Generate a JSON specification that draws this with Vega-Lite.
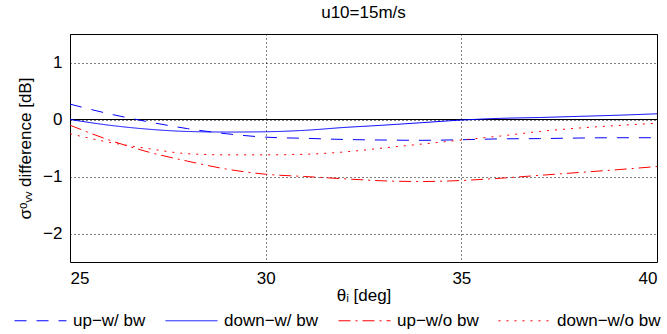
{
  "$schema": "https://vega.github.io/schema/vega-lite/v6.json",
  "width": 587,
  "height": 228,
  "autosize": "none",
  "padding": {"left": 70, "top": 34, "right": 10, "bottom": 72},
  "background": "white",
  "title": {"text": "u10=15m/s", "fontSize": 17, "font": "Liberation Sans", "fontWeight": "normal", "offset": 12, "anchor": "middle", "color": "black"},
  "config": {
    "font": "Liberation Sans",
    "view": {"stroke": "black", "strokeWidth": 1},
    "axis": {
      "domain": false,
      "ticks": false,
      "grid": true,
      "gridColor": "black",
      "gridDash": [1, 3],
      "gridOpacity": 1,
      "gridWidth": 1,
      "labelFont": "Liberation Sans",
      "labelFontSize": 17,
      "labelColor": "black",
      "titleFont": "Liberation Sans",
      "titleFontSize": 17,
      "titleFontWeight": "normal",
      "titleColor": "black"
    },
    "legend": {
      "labelFont": "Liberation Sans",
      "labelFontSize": 17,
      "labelColor": "black",
      "labelLimit": 300
    }
  },
  "data": {
    "values": [
      {"t": 25, "s": "up−w/ bw", "v": 0.27},
      {"t": 26, "s": "up−w/ bw", "v": 0.1},
      {"t": 27, "s": "up−w/ bw", "v": -0.04},
      {"t": 28, "s": "up−w/ bw", "v": -0.16},
      {"t": 29, "s": "up−w/ bw", "v": -0.25},
      {"t": 30, "s": "up−w/ bw", "v": -0.31},
      {"t": 31, "s": "up−w/ bw", "v": -0.33},
      {"t": 32, "s": "up−w/ bw", "v": -0.35},
      {"t": 33, "s": "up−w/ bw", "v": -0.36},
      {"t": 34, "s": "up−w/ bw", "v": -0.365},
      {"t": 35, "s": "up−w/ bw", "v": -0.355},
      {"t": 36, "s": "up−w/ bw", "v": -0.34},
      {"t": 37, "s": "up−w/ bw", "v": -0.335},
      {"t": 38, "s": "up−w/ bw", "v": -0.325},
      {"t": 39, "s": "up−w/ bw", "v": -0.32},
      {"t": 40, "s": "up−w/ bw", "v": -0.32},
      {"t": 25, "s": "down−w/ bw", "v": 0.0},
      {"t": 26, "s": "down−w/ bw", "v": -0.1},
      {"t": 27, "s": "down−w/ bw", "v": -0.17},
      {"t": 28, "s": "down−w/ bw", "v": -0.21},
      {"t": 29, "s": "down−w/ bw", "v": -0.22},
      {"t": 30, "s": "down−w/ bw", "v": -0.215},
      {"t": 31, "s": "down−w/ bw", "v": -0.19},
      {"t": 32, "s": "down−w/ bw", "v": -0.14},
      {"t": 33, "s": "down−w/ bw", "v": -0.1},
      {"t": 34, "s": "down−w/ bw", "v": -0.055},
      {"t": 35, "s": "down−w/ bw", "v": -0.01},
      {"t": 36, "s": "down−w/ bw", "v": 0.02},
      {"t": 37, "s": "down−w/ bw", "v": 0.035},
      {"t": 38, "s": "down−w/ bw", "v": 0.055},
      {"t": 39, "s": "down−w/ bw", "v": 0.075},
      {"t": 40, "s": "down−w/ bw", "v": 0.1},
      {"t": 25, "s": "up−w/o bw", "v": -0.1},
      {"t": 26, "s": "up−w/o bw", "v": -0.36},
      {"t": 27, "s": "up−w/o bw", "v": -0.57},
      {"t": 28, "s": "up−w/o bw", "v": -0.73},
      {"t": 29, "s": "up−w/o bw", "v": -0.87},
      {"t": 30, "s": "up−w/o bw", "v": -0.96},
      {"t": 31, "s": "up−w/o bw", "v": -1.0},
      {"t": 32, "s": "up−w/o bw", "v": -1.04},
      {"t": 33, "s": "up−w/o bw", "v": -1.076},
      {"t": 34, "s": "up−w/o bw", "v": -1.088},
      {"t": 35, "s": "up−w/o bw", "v": -1.07},
      {"t": 36, "s": "up−w/o bw", "v": -1.03},
      {"t": 37, "s": "up−w/o bw", "v": -0.98},
      {"t": 38, "s": "up−w/o bw", "v": -0.93},
      {"t": 39, "s": "up−w/o bw", "v": -0.88},
      {"t": 40, "s": "up−w/o bw", "v": -0.825},
      {"t": 25, "s": "down−w/o bw", "v": -0.25},
      {"t": 26, "s": "down−w/o bw", "v": -0.4},
      {"t": 27, "s": "down−w/o bw", "v": -0.51},
      {"t": 28, "s": "down−w/o bw", "v": -0.6},
      {"t": 29, "s": "down−w/o bw", "v": -0.62},
      {"t": 30, "s": "down−w/o bw", "v": -0.62},
      {"t": 31, "s": "down−w/o bw", "v": -0.61},
      {"t": 32, "s": "down−w/o bw", "v": -0.57},
      {"t": 33, "s": "down−w/o bw", "v": -0.5},
      {"t": 34, "s": "down−w/o bw", "v": -0.43},
      {"t": 35, "s": "down−w/o bw", "v": -0.36},
      {"t": 36, "s": "down−w/o bw", "v": -0.29},
      {"t": 37, "s": "down−w/o bw", "v": -0.21},
      {"t": 38, "s": "down−w/o bw", "v": -0.15},
      {"t": 39, "s": "down−w/o bw", "v": -0.105},
      {"t": 40, "s": "down−w/o bw", "v": -0.065}
    ]
  },
  "layer": [
    {
      "mark": {"type": "rule", "color": "black", "strokeWidth": 1},
      "encoding": {"y": {"datum": 0, "type": "quantitative"}}
    },
    {
      "mark": {"type": "line", "strokeWidth": 1, "interpolate": "monotone", "clip": true},
      "encoding": {
        "x": {
          "field": "t", "type": "quantitative",
          "scale": {"domain": [25, 40], "nice": false, "zero": false},
          "axis": {"values": [25, 30, 35, 40], "format": "d", "title": "θᵢ [deg]", "labelPadding": 8, "titlePadding": 1}
        },
        "y": {
          "field": "v", "type": "quantitative",
          "scale": {"domain": [-2.5, 1.5], "nice": false, "zero": false},
          "axis": {"values": [-2, -1, 0, 1], "format": "d", "title": "σᵒᵥᵥ difference [dB]", "labelPadding": 8, "titlePadding": 8}
        },
        "color": {
          "field": "s", "type": "nominal",
          "scale": {"domain": ["up−w/ bw", "down−w/ bw", "up−w/o bw", "down−w/o bw"], "range": ["#0000ff", "#0000ff", "#ff0000", "#ff0000"]},
          "legend": {"title": null, "orient": "none", "legendX": -56, "legendY": 260, "direction": "horizontal", "columns": 4, "symbolType": "stroke", "symbolSize": 2700, "symbolStrokeWidth": 1, "columnPadding": 17, "labelOffset": 6}
        },
        "strokeDash": {
          "field": "s", "type": "nominal",
          "scale": {"domain": ["up−w/ bw", "down−w/ bw", "up−w/o bw", "down−w/o bw"], "range": [[12, 10], [1, 0], [12, 5, 2, 5], [2, 6]]},
          "legend": {"title": null, "orient": "none", "legendX": -56, "legendY": 260, "direction": "horizontal", "columns": 4, "symbolType": "stroke", "symbolSize": 2700, "symbolStrokeWidth": 1, "columnPadding": 17, "labelOffset": 6}
        }
      }
    }
  ]
}
